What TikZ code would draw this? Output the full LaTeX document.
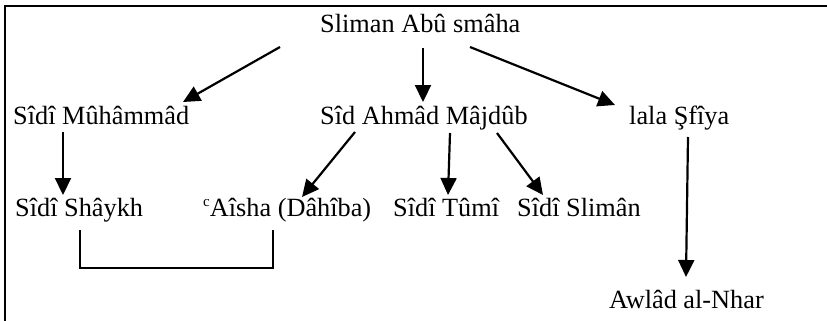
\documentclass[tikz,border=0pt]{standalone}
\usepackage{fontspec}
\setmainfont{Liberation Serif}
\usetikzlibrary{arrows.meta}
\begin{document}
\begin{tikzpicture}[x=1pt,y=-1pt,
  lbl/.style={anchor=base west,inner sep=0pt,font=\fontsize{26.3}{30}\selectfont},
  arr/.style={line width=2.2pt,-{Triangle[length=17pt,width=16pt]}},
  frameline/.style={line width=2pt},
  bracketline/.style={line width=1.4pt}]
\useasboundingbox (0,0) rectangle (827,321);
% frame
\coordinate (fl) at (4.5,321);
\coordinate (fc) at (4.5,6.5);
\coordinate (fr) at (827,6.5);
\draw[frameline] (fl) -- (fc) -- (fr);
% labels
\node[lbl] (sliman) at (320,33) {Sliman Abû smâha};
\node[lbl] (muhammad) at (13,124) {Sîdî Mûhâmmâd};
\node[lbl] (ahmad) at (320,124) {Sîd Ahmâd Mâjdûb};
\node[lbl] (lala) at (629,124) {lala Şfîya};
\node[lbl] (shaykh) at (15,216) {Sîdî Shâykh};
\node[lbl] (aisha) at (203,216) {\raisebox{9.5pt}{\fontsize{15}{15}\selectfont c}Aîsha (Dâhîba)};
\node[lbl] (tumi) at (393,216) {Sîdî Tûmî};
\node[lbl] (sliman2) at (517,216) {Sîdî Slimân};
\node[lbl] (awlad) at (609,308) {Awlâd al-Nhar};
% arrow end points
\coordinate (a1s) at (280,47);  \coordinate (a1e) at (183,102);
\coordinate (a2s) at (423,48);  \coordinate (a2e) at (423,102);
\coordinate (a3s) at (470,47);  \coordinate (a3e) at (615,105);
\coordinate (b1s) at (63,132);  \coordinate (b1e) at (63,195);
\coordinate (b2s) at (355,132); \coordinate (b2e) at (302,197);
\coordinate (b3s) at (450,133); \coordinate (b3e) at (448,195);
\coordinate (b4s) at (497,133); \coordinate (b4e) at (543,195);
\coordinate (b5s) at (688,137); \coordinate (b5e) at (686,277);
\draw[arr] (a1s) -- (a1e);
\draw[arr] (a2s) -- (a2e);
\draw[arr] (a3s) -- (a3e);
\draw[arr] (b1s) -- (b1e);
\draw[arr] (b2s) -- (b2e);
\draw[arr] (b3s) -- (b3e);
\draw[arr] (b4s) -- (b4e);
\draw[arr] (b5s) -- (b5e);
% bracket
\coordinate (k1) at (80,230);
\coordinate (k2) at (80,268);
\coordinate (k3) at (273,268);
\coordinate (k4) at (273,230);
\draw[bracketline] (k1) -- (k2) -- (k3) -- (k4);
\end{tikzpicture}
\end{document}
